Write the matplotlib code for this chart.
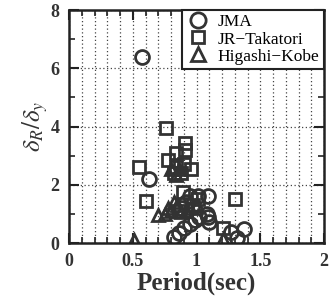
import matplotlib
matplotlib.use("Agg")
import matplotlib.pyplot as plt
from matplotlib.ticker import MultipleLocator

plt.rcParams['mathtext.fontset'] = 'stix'

jma_x = [0.57, 0.63, 0.82, 0.86, 0.90, 0.95, 0.99, 1.02, 1.09, 1.10, 1.09, 1.01, 0.95, 1.08, 1.27, 1.37, 1.32, 0.88, 0.92]
jma_y = [6.40, 2.20, 0.20, 0.35, 0.50, 0.65, 0.80, 0.90, 0.90, 0.72, 1.62, 1.62, 1.60, 1.00, 0.37, 0.48, 0.17, 1.20, 1.40]

jr_x = [0.76, 0.91, 0.91, 0.84, 0.78, 0.96, 0.55, 0.84, 0.88, 0.82, 0.90, 0.60, 0.895, 1.01, 1.30, 1.21, 0.97, 0.86]
jr_y = [3.95, 3.45, 3.20, 3.10, 2.85, 2.55, 2.60, 2.60, 2.40, 2.40, 2.70, 1.45, 1.75, 1.50, 1.50, 0.50, 1.30, 1.10]

hk_x = [0.51, 0.70, 0.75, 0.78, 0.82, 0.85, 0.80, 0.88, 0.92, 0.95, 1.00, 1.21, 0.86, 0.80, 0.84]
hk_y = [0.10, 0.95, 1.00, 1.20, 1.40, 1.30, 1.10, 1.05, 1.10, 1.20, 1.30, 0.15, 2.55, 2.55, 2.35]

x_ticks = [0, 0.5, 1, 1.5, 2]
x_tick_labels = ['0', '0.5', '1', '1.5', '2']

fig = plt.figure(figsize=(3.29, 3.00), dpi=100)
ax = fig.add_axes([69/329, 1 - 243/300, 255/329, 233/300])

mk = dict(linestyle='none', markerfacecolor='none', markeredgecolor='#333333', markeredgewidth=2.0)
ax.plot(jma_x, jma_y, marker='o', markersize=10, label='JMA', **mk)
ax.plot(jr_x, jr_y, marker='s', markersize=8, label='JR\u2212Takatori', **mk)
ax.plot(hk_x, hk_y, marker='^', markersize=9, label='Higashi\u2212Kobe', **mk)

ax.set_xlim(0, 2)
ax.set_ylim(0, 8)
ax.set_xticks(x_ticks)
ax.set_xticklabels(x_tick_labels)
ax.xaxis.set_minor_locator(MultipleLocator(0.1))
ax.yaxis.set_major_locator(MultipleLocator(2))
ax.yaxis.set_minor_locator(MultipleLocator(1))

dots = (0, (1, 2))
ax.grid(True, which='major', axis='y', linestyle=dots, color='#444444', linewidth=0.9)
ax.grid(True, which='both', axis='x', linestyle=dots, color='#444444', linewidth=0.9)
ax.set_axisbelow(True)

ax.tick_params(which='both', direction='in', top=True, right=True, colors='#222222')
ax.tick_params(which='major', length=7, width=1.5, pad=7)
ax.tick_params(which='minor', length=4, width=1.2)
for s in ax.spines.values():
    s.set_linewidth(1.8)
    s.set_color('#222222')

for lab in ax.get_xticklabels() + ax.get_yticklabels():
    lab.set_fontfamily('Liberation Serif')
    lab.set_fontweight('bold')
    lab.set_fontsize(13)
    lab.set_color('#333333')

ax.set_xlabel('Period(sec)', fontfamily='Liberation Serif', fontweight='bold', fontsize=18, color='#333333', labelpad=1)
ax.set_ylabel(r'$\delta_R/\delta_y$', fontsize=18, color='#333333', labelpad=0)

leg = ax.legend(loc='upper right', prop={'family': 'Liberation Serif', 'size': 12.5},
                frameon=True, fancybox=False, borderaxespad=0, handletextpad=0.5,
                labelspacing=0.05, borderpad=0.25, handlelength=1.3, markerscale=1.1)
leg.get_frame().set_edgecolor('#222222')
leg.get_frame().set_linewidth(1.5)
leg.get_frame().set_alpha(1)

fig.savefig('out.png', dpi=100)
